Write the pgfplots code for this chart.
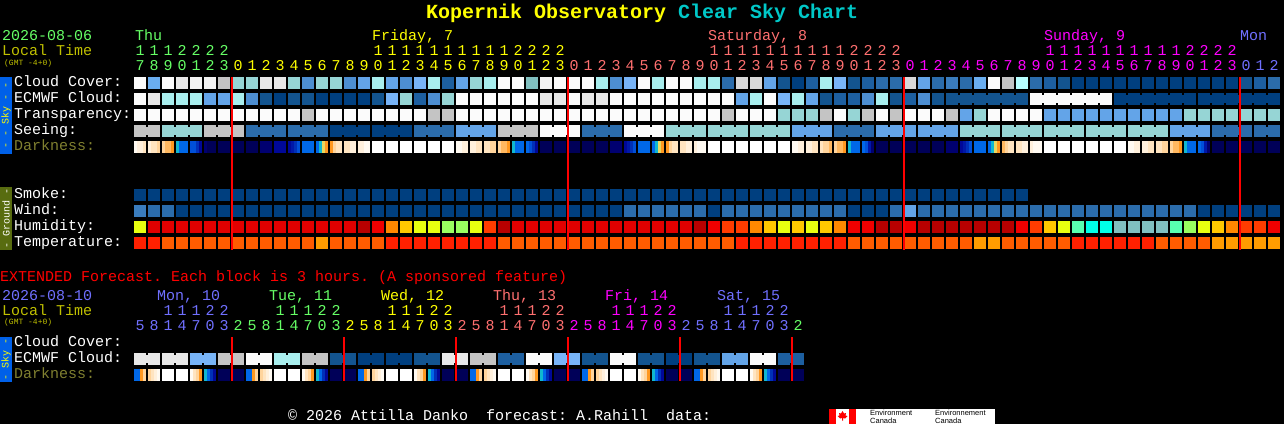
\documentclass[border=0pt]{standalone}
\usepackage{fontspec}
\usepackage{pgfplots}
\usepackage{pgfplotstable}
\pgfplotsset{compat=1.18}
\frenchspacing
\newfontfamily\mono{Liberation Mono}
\newfontfamily\sans{Liberation Sans}
% sky palette
\definecolor{cW}{HTML}{FBFBFB}\definecolor{cw}{HTML}{F3F3F3}\definecolor{ce}{HTML}{E8E8E8}
\definecolor{cd}{HTML}{D8D8D8}\definecolor{cg}{HTML}{C4C4C4}\definecolor{cp}{HTML}{B8FFFF}
\definecolor{cc}{HTML}{A8EEEE}\definecolor{ct}{HTML}{96D5D5}\definecolor{cT}{HTML}{80BFBF}
\definecolor{cl}{HTML}{78B4F7}\definecolor{ck}{HTML}{6AAEF0}\definecolor{ch}{HTML}{63A4E8}
\definecolor{cm}{HTML}{4D8ED1}\definecolor{cM}{HTML}{3A7CBD}\definecolor{cb}{HTML}{2B6CAB}
\definecolor{ca}{HTML}{1D5FA0}\definecolor{cn}{HTML}{13548F}\definecolor{cN}{HTML}{003F7F}
% darkness palette
\definecolor{dW}{HTML}{FFFFFF}\definecolor{dA}{HTML}{FFFAF2}\definecolor{dB}{HTML}{FFF0DC}
\definecolor{dC}{HTML}{FFE4C0}\definecolor{dD}{HTML}{FFD49C}\definecolor{dE}{HTML}{FFB860}
\definecolor{dF}{HTML}{FF9820}\definecolor{dG}{HTML}{10B8D0}\definecolor{dY}{HTML}{E8D860}
\definecolor{dH}{HTML}{0068E8}\definecolor{dI}{HTML}{0050D8}\definecolor{dJ}{HTML}{0030B8}
\definecolor{dK}{HTML}{0018A8}\definecolor{dL}{HTML}{000898}\definecolor{dM}{HTML}{000070}
\definecolor{dN}{HTML}{000058}
% humidity palette
\definecolor{hy}{HTML}{E8FF10}\definecolor{hg}{HTML}{98FF60}\definecolor{hm}{HTML}{58FFB0}
\definecolor{hq}{HTML}{00FFE8}\definecolor{hc}{HTML}{80C0C0}\definecolor{ha}{HTML}{FFC800}
\definecolor{ho}{HTML}{FF8800}\definecolor{hs}{HTML}{FF3C00}\definecolor{hR}{HTML}{F00000}
\definecolor{hr}{HTML}{E00000}\definecolor{hd}{HTML}{B80000}
% temperature palette
\definecolor{tA}{HTML}{FF2000}\definecolor{tB}{HTML}{FF5C00}\definecolor{tC}{HTML}{FF9C00}
% text colours
\definecolor{xGrn}{HTML}{66FF66}\definecolor{xYel}{HTML}{FFFF00}\definecolor{xSal}{HTML}{FF7070}
\definecolor{xMag}{HTML}{FF00FF}\definecolor{xBlu}{HTML}{7070FF}\definecolor{xLT}{HTML}{C0C000}
\definecolor{xDk}{HTML}{808030}\definecolor{xCy}{HTML}{00C8C8}\definecolor{xSky}{HTML}{0060E8}
\definecolor{xGnd}{HTML}{586C10}

\pgfdeclareplotmark{cell}{\pgfpathrectangle{\pgfpoint{-6pt}{-6pt}}{\pgfpoint{12pt}{12pt}}\pgfusepath{fill}}
\pgfdeclareplotmark{bridge}{\pgfpathrectangle{\pgfpoint{-2.5pt}{-4pt}}{\pgfpoint{5pt}{8pt}}\pgfusepath{fill}}
\pgfdeclareplotmark{slice}{\pgfpathrectangle{\pgfpoint{-1.7pt}{-6pt}}{\pgfpoint{3.4pt}{12pt}}\pgfusepath{fill}}

\pgfplotsset{
 skypal/.style={only marks,scatter,scatter src=explicit symbolic,mark=#1,
  scatter/classes={
   W={mark=#1,fill=cW,draw=none},w={mark=#1,fill=cw,draw=none},e={mark=#1,fill=ce,draw=none},
   d={mark=#1,fill=cd,draw=none},g={mark=#1,fill=cg,draw=none},p={mark=#1,fill=cp,draw=none},
   c={mark=#1,fill=cc,draw=none},t={mark=#1,fill=ct,draw=none},T={mark=#1,fill=cT,draw=none},
   l={mark=#1,fill=cl,draw=none},k={mark=#1,fill=ck,draw=none},h={mark=#1,fill=ch,draw=none},
   m={mark=#1,fill=cm,draw=none},M={mark=#1,fill=cM,draw=none},b={mark=#1,fill=cb,draw=none},
   a={mark=#1,fill=ca,draw=none},n={mark=#1,fill=cn,draw=none},N={mark=#1,fill=cN,draw=none}}},
 darkpal/.style={only marks,scatter,scatter src=explicit symbolic,mark=slice,
  scatter/classes={
   W={mark=slice,fill=dW,draw=none},A={mark=slice,fill=dA,draw=none},B={mark=slice,fill=dB,draw=none},
   C={mark=slice,fill=dC,draw=none},D={mark=slice,fill=dD,draw=none},E={mark=slice,fill=dE,draw=none},
   F={mark=slice,fill=dF,draw=none},G={mark=slice,fill=dG,draw=none},Y={mark=slice,fill=dY,draw=none},
   H={mark=slice,fill=dH,draw=none},I={mark=slice,fill=dI,draw=none},J={mark=slice,fill=dJ,draw=none},
   K={mark=slice,fill=dK,draw=none},L={mark=slice,fill=dL,draw=none},M={mark=slice,fill=dM,draw=none},
   N={mark=slice,fill=dN,draw=none}}},
 humpal/.style={only marks,scatter,scatter src=explicit symbolic,mark=cell,
  scatter/classes={
   y={mark=cell,fill=hy,draw=none},g={mark=cell,fill=hg,draw=none},m={mark=cell,fill=hm,draw=none},
   q={mark=cell,fill=hq,draw=none},c={mark=cell,fill=hc,draw=none},a={mark=cell,fill=ha,draw=none},
   o={mark=cell,fill=ho,draw=none},s={mark=cell,fill=hs,draw=none},R={mark=cell,fill=hR,draw=none},
   r={mark=cell,fill=hr,draw=none},d={mark=cell,fill=hd,draw=none}}},
 tmppal/.style={only marks,scatter,scatter src=explicit symbolic,mark=cell,
  scatter/classes={
   A={mark=cell,fill=tA,draw=none},B={mark=cell,fill=tB,draw=none},C={mark=cell,fill=tC,draw=none}}},
 redline/.style={no marks,red,line width=2pt},
 base/.style={at={(0pt,0pt)},anchor=north west,scale only axis,width=1284pt,height=424pt,
  xmin=-10,xmax=81.7142857,ymin=0,ymax=424,y dir=reverse,
  ticks=none,axis line style={draw=none},clip=true},
}

% darkness, four slices per cell, one table for each forecast
\pgfplotstableread{
i a b c d
0 A B B C
1 B C C D
2 D E E F
3 G H H H
4 I I J L
5 M N N N
6 N N N N
7 N N N N
8 N N N N
9 M M M M
10 L L L L
11 L K J I
12 H H H H
13 H G Y F
14 F D C C
15 C C B B
16 B B A A
17 W W W W
18 W W W W
19 W W W W
20 W W W W
21 W W W W
22 W W W W
23 A A B B
24 B B C C
25 C C D D
26 D E E F
27 G H H H
28 H I J L
29 N N N N
30 N N N N
31 N N N N
32 N N N N
33 N N N N
34 M M M M
35 L K J I
36 H H H H
37 H G Y F
38 F D C C
39 C C B B
40 B A A A
41 W W W W
42 W W W W
43 W W W W
44 W W W W
45 W W W W
46 W W W W
47 A A B B
48 B B C C
49 C D D E
50 D E E F
51 G H H H
52 H I K M
53 N N N N
54 N N N N
55 N N N N
56 N N N N
57 N N N N
58 M M M M
59 L K J I
60 H H H H
61 H G Y F
62 E D C C
63 C C B B
64 B A A A
65 W W W W
66 W W W W
67 W W W W
68 W W W W
69 W W W W
70 W W W W
71 A A B B
72 B B C C
73 C C D D
74 D E E F
75 G H H H
76 H I K M
77 N N N N
78 N N N N
79 N N N N
80 N N N N
81 N N N N
}\darkmain

\pgfplotstableread{
i a b c d
0 H H F D
1 D C B A
2 W W W W
3 W W W W
4 A C D F
5 G H J L
6 N N N N
7 N N N N
8 H H F D
9 D C B A
10 W W W W
11 W W W W
12 A C D F
13 G H J L
14 N N N N
15 N N N N
16 H H F D
17 D C B A
18 W W W W
19 W W W W
20 A C D F
21 G H J L
22 N N N N
23 N N N N
24 H H F D
25 D C B A
26 W W W W
27 W W W W
28 A C D F
29 G H J L
30 N N N N
31 N N N N
32 H H F D
33 D C B A
34 W W W W
35 W W W W
36 A C D F
37 G H J L
38 N N N N
39 N N N N
40 H H F D
41 D C B A
42 W W W W
43 W W W W
44 A C D F
45 G H J L
46 N N N N
47 N N N N
}\darkext

% extended ECMWF cloud, one colour per two-cell block
\pgfplotstableread{
b c
0 e
1 e
2 l
3 g
4 W
5 c
6 g
7 n
8 N
9 N
10 n
11 e
12 g
13 a
14 W
15 l
16 n
17 W
18 n
19 N
20 n
21 h
22 W
23 a
}\ecmwfext

\newcommand\hours[4]{\foreach \d [count=\n from #1] in {#4}{\node[anchor=base,inner sep=0pt,text=#2,font=\mono\fontsize{15}{15}\selectfont] at ({140+14*\n},#3) {\d};}}
\newcommand\lab[4][white]{\node[anchor=base west,inner sep=0pt,text=#1,font=\mono\fontsize{#4}{#4}\selectfont] at (#2) {#3};}

\begin{document}
\begin{tikzpicture}
\path[use as bounding box] (0pt,0pt) rectangle (1284pt,-424pt);
\begin{axis}[base,axis background/.style={fill=black}]
% Cloud Cover
\addplot[skypal=cell] coordinates {(0,83)[W](1,83)[k](2,83)[W](3,83)[e](4,83)[w](5,83)[w](6,83)[g](7,83)[t](8,83)[t](9,83)[e](10,83)[e](11,83)[t](12,83)[m](13,83)[t](14,83)[t](15,83)[m](16,83)[h](17,83)[c](18,83)[h](19,83)[m](20,83)[l](21,83)[c](22,83)[a](23,83)[h](24,83)[t](25,83)[c](26,83)[W](27,83)[W](28,83)[T](29,83)[w](30,83)[W](31,83)[W](32,83)[W](33,83)[c](34,83)[m](35,83)[l](36,83)[W](37,83)[c](38,83)[W](39,83)[W](40,83)[c](41,83)[c](42,83)[b](43,83)[d](44,83)[d](45,83)[h](46,83)[n](47,83)[N](48,83)[a](49,83)[c](50,83)[l](51,83)[n](52,83)[a](53,83)[b](54,83)[b](55,83)[d](56,83)[h](57,83)[b](58,83)[M](59,83)[b](60,83)[k](61,83)[W](62,83)[g](63,83)[p](64,83)[b](65,83)[a](66,83)[n](67,83)[N](68,83)[N](69,83)[N](70,83)[N](71,83)[N](72,83)[N](73,83)[N](74,83)[N](75,83)[N](76,83)[N](77,83)[N](78,83)[N](79,83)[n](80,83)[a](81,83)[b]};
% ECMWF Cloud
\addplot[skypal=cell] coordinates {(0,99)[W](1,99)[e](2,99)[c](3,99)[c](4,99)[c](5,99)[h](6,99)[h](7,99)[c](8,99)[m](9,99)[n](10,99)[N](11,99)[n](12,99)[n](13,99)[N](14,99)[N](15,99)[N](16,99)[N](17,99)[n](18,99)[l](19,99)[t](20,99)[a](21,99)[m](22,99)[t](23,99)[W](24,99)[W](25,99)[W](26,99)[W](27,99)[W](28,99)[W](29,99)[e](30,99)[e](31,99)[W](32,99)[e](33,99)[e](34,99)[W](35,99)[W](36,99)[W](37,99)[W](38,99)[W](39,99)[W](40,99)[W](41,99)[W](42,99)[W](43,99)[h](44,99)[c](45,99)[W](46,99)[l](47,99)[c](48,99)[h](49,99)[n](50,99)[a](51,99)[a](52,99)[m](53,99)[c](54,99)[n](55,99)[a](56,99)[m](57,99)[n](58,99)[n](59,99)[n](60,99)[n](61,99)[n](62,99)[n](63,99)[n](64,99)[W](65,99)[W](66,99)[W](67,99)[W](68,99)[W](69,99)[W](70,99)[N](71,99)[N](72,99)[N](73,99)[N](74,99)[N](75,99)[N](76,99)[N](77,99)[N](78,99)[N](79,99)[N](80,99)[N](81,99)[N]};
\addplot[skypal=bridge] coordinates {(58.5,99)[n](59.5,99)[n](60.5,99)[n](61.5,99)[n](62.5,99)[n](64.5,99)[W](65.5,99)[W](66.5,99)[W](67.5,99)[W](68.5,99)[W](70.5,99)[N](71.5,99)[N](72.5,99)[N](73.5,99)[N](74.5,99)[N](76.5,99)[N](77.5,99)[N](78.5,99)[N](79.5,99)[N](80.5,99)[N]};
% Transparency
\addplot[skypal=cell] coordinates {(0,115)[W](1,115)[W](2,115)[W](3,115)[W](4,115)[W](5,115)[W](6,115)[W](7,115)[W](8,115)[W](9,115)[W](10,115)[W](11,115)[W](12,115)[g](13,115)[W](14,115)[W](15,115)[W](16,115)[W](17,115)[W](18,115)[W](19,115)[W](20,115)[W](21,115)[g](22,115)[g](23,115)[W](24,115)[W](25,115)[W](26,115)[W](27,115)[W](28,115)[W](29,115)[W](30,115)[W](31,115)[W](32,115)[W](33,115)[W](34,115)[W](35,115)[W](36,115)[W](37,115)[W](38,115)[W](39,115)[W](40,115)[W](41,115)[W](42,115)[g](43,115)[W](44,115)[W](45,115)[W](46,115)[t](47,115)[t](48,115)[t](49,115)[g](50,115)[W](51,115)[t](52,115)[g](53,115)[W](54,115)[g](55,115)[W](56,115)[W](57,115)[W](58,115)[g](59,115)[h](60,115)[t](61,115)[W](62,115)[W](63,115)[W](64,115)[W](65,115)[h](66,115)[h](67,115)[h](68,115)[h](69,115)[h](70,115)[h](71,115)[h](72,115)[h](73,115)[h](74,115)[h](75,115)[t](76,115)[t](77,115)[t](78,115)[t](79,115)[t](80,115)[t](81,115)[t]};
% Seeing
\addplot[skypal=cell] coordinates {(0,131)[g](1,131)[g](2,131)[t](3,131)[t](4,131)[t](5,131)[g](6,131)[g](7,131)[g](8,131)[b](9,131)[b](10,131)[b](11,131)[b](12,131)[b](13,131)[b](14,131)[N](15,131)[N](16,131)[N](17,131)[N](18,131)[N](19,131)[N](20,131)[b](21,131)[b](22,131)[b](23,131)[h](24,131)[h](25,131)[h](26,131)[g](27,131)[g](28,131)[g](29,131)[W](30,131)[W](31,131)[W](32,131)[b](33,131)[b](34,131)[b](35,131)[W](36,131)[W](37,131)[W](38,131)[t](39,131)[t](40,131)[t](41,131)[t](42,131)[t](43,131)[t](44,131)[t](45,131)[t](46,131)[t](47,131)[h](48,131)[h](49,131)[h](50,131)[b](51,131)[b](52,131)[b](53,131)[h](54,131)[h](55,131)[h](56,131)[h](57,131)[h](58,131)[h](59,131)[t](60,131)[t](61,131)[t](62,131)[t](63,131)[t](64,131)[t](65,131)[t](66,131)[t](67,131)[t](68,131)[t](69,131)[t](70,131)[t](71,131)[t](72,131)[t](73,131)[t](74,131)[h](75,131)[h](76,131)[h](77,131)[b](78,131)[b](79,131)[b](80,131)[b](81,131)[b]};
\addplot[skypal=bridge] coordinates {(.5,131)[g](2.5,131)[t](3.5,131)[t](5.5,131)[g](6.5,131)[g](8.5,131)[b](9.5,131)[b](11.5,131)[b](12.5,131)[b](14.5,131)[N](15.5,131)[N](17.5,131)[N](18.5,131)[N](20.5,131)[b](21.5,131)[b](23.5,131)[h](24.5,131)[h](26.5,131)[g](27.5,131)[g](29.5,131)[W](30.5,131)[W](32.5,131)[b](33.5,131)[b](35.5,131)[W](36.5,131)[W](38.5,131)[t](39.5,131)[t](41.5,131)[t](42.5,131)[t](44.5,131)[t](45.5,131)[t](47.5,131)[h](48.5,131)[h](50.5,131)[b](51.5,131)[b](53.5,131)[h](54.5,131)[h](56.5,131)[h](57.5,131)[h](59.5,131)[t](60.5,131)[t](62.5,131)[t](63.5,131)[t](65.5,131)[t](66.5,131)[t](68.5,131)[t](69.5,131)[t](71.5,131)[t](72.5,131)[t](74.5,131)[h](75.5,131)[h](77.5,131)[b](78.5,131)[b](80.5,131)[b]};
% Darkness
\addplot[darkpal] table[x expr=\thisrow{i}-.32,y expr=147,meta=a] {\darkmain};
\addplot[darkpal] table[x expr=\thisrow{i}-.11,y expr=147,meta=b] {\darkmain};
\addplot[darkpal] table[x expr=\thisrow{i}+.11,y expr=147,meta=c] {\darkmain};
\addplot[darkpal] table[x expr=\thisrow{i}+.32,y expr=147,meta=d] {\darkmain};
% Smoke
\addplot[skypal=cell] coordinates {(0,195)[N](1,195)[N](2,195)[N](3,195)[N](4,195)[N](5,195)[N](6,195)[N](7,195)[N](8,195)[N](9,195)[N](10,195)[N](11,195)[N](12,195)[N](13,195)[N](14,195)[N](15,195)[N](16,195)[N](17,195)[N](18,195)[N](19,195)[N](20,195)[N](21,195)[N](22,195)[N](23,195)[N](24,195)[N](25,195)[N](26,195)[N](27,195)[N](28,195)[N](29,195)[N](30,195)[N](31,195)[N](32,195)[N](33,195)[N](34,195)[N](35,195)[N](36,195)[N](37,195)[N](38,195)[N](39,195)[N](40,195)[N](41,195)[N](42,195)[N](43,195)[N](44,195)[N](45,195)[N](46,195)[N](47,195)[N](48,195)[N](49,195)[N](50,195)[N](51,195)[N](52,195)[N](53,195)[N](54,195)[N](55,195)[N](56,195)[N](57,195)[N](58,195)[N](59,195)[N](60,195)[N](61,195)[N](62,195)[N](63,195)[N]};
% Wind
\addplot[skypal=cell] coordinates {(0,211)[M](1,211)[b](2,211)[b](3,211)[N](4,211)[N](5,211)[N](6,211)[N](7,211)[N](8,211)[N](9,211)[N](10,211)[N](11,211)[N](12,211)[N](13,211)[N](14,211)[N](15,211)[N](16,211)[N](17,211)[N](18,211)[N](19,211)[N](20,211)[N](21,211)[N](22,211)[N](23,211)[N](24,211)[N](25,211)[N](26,211)[N](27,211)[N](28,211)[N](29,211)[N](30,211)[N](31,211)[N](32,211)[N](33,211)[N](34,211)[N](35,211)[b](36,211)[b](37,211)[b](38,211)[b](39,211)[b](40,211)[b](41,211)[N](42,211)[b](43,211)[b](44,211)[b](45,211)[b](46,211)[b](47,211)[b](48,211)[b](49,211)[b](50,211)[b](51,211)[N](52,211)[N](53,211)[N](54,211)[b](55,211)[h](56,211)[b](57,211)[b](58,211)[b](59,211)[b](60,211)[b](61,211)[b](62,211)[b](63,211)[b](64,211)[b](65,211)[b](66,211)[b](67,211)[b](68,211)[b](69,211)[b](70,211)[b](71,211)[b](72,211)[b](73,211)[b](74,211)[b](75,211)[b](76,211)[N](77,211)[N](78,211)[N](79,211)[N](80,211)[N](81,211)[N]};
% Humidity
\addplot[humpal] coordinates {(0,227)[y](1,227)[r](2,227)[r](3,227)[r](4,227)[r](5,227)[r](6,227)[r](7,227)[r](8,227)[r](9,227)[r](10,227)[r](11,227)[r](12,227)[r](13,227)[r](14,227)[r](15,227)[r](16,227)[d](17,227)[R](18,227)[o](19,227)[a](20,227)[y](21,227)[y](22,227)[g](23,227)[g](24,227)[y](25,227)[s](26,227)[d](27,227)[r](28,227)[r](29,227)[r](30,227)[r](31,227)[r](32,227)[r](33,227)[r](34,227)[r](35,227)[r](36,227)[r](37,227)[r](38,227)[r](39,227)[r](40,227)[d](41,227)[R](42,227)[s](43,227)[s](44,227)[o](45,227)[a](46,227)[y](47,227)[a](48,227)[y](49,227)[a](50,227)[o](51,227)[R](52,227)[R](53,227)[d](54,227)[d](55,227)[R](56,227)[d](57,227)[d](58,227)[d](59,227)[d](60,227)[d](61,227)[d](62,227)[d](63,227)[R](64,227)[s](65,227)[a](66,227)[y](67,227)[m](68,227)[q](69,227)[q](70,227)[c](71,227)[c](72,227)[c](73,227)[c](74,227)[m](75,227)[g](76,227)[y](77,227)[a](78,227)[o](79,227)[s](80,227)[s](81,227)[R]};
% Temperature
\addplot[tmppal] coordinates {(0,243)[A](1,243)[A](2,243)[B](3,243)[B](4,243)[B](5,243)[B](6,243)[B](7,243)[B](8,243)[B](9,243)[B](10,243)[B](11,243)[B](12,243)[B](13,243)[C](14,243)[B](15,243)[B](16,243)[B](17,243)[B](18,243)[A](19,243)[A](20,243)[A](21,243)[A](22,243)[A](23,243)[A](24,243)[A](25,243)[A](26,243)[B](27,243)[B](28,243)[B](29,243)[B](30,243)[B](31,243)[B](32,243)[B](33,243)[B](34,243)[B](35,243)[B](36,243)[B](37,243)[B](38,243)[B](39,243)[B](40,243)[B](41,243)[B](42,243)[B](43,243)[A](44,243)[A](45,243)[A](46,243)[A](47,243)[A](48,243)[A](49,243)[A](50,243)[A](51,243)[B](52,243)[B](53,243)[B](54,243)[B](55,243)[B](56,243)[B](57,243)[B](58,243)[B](59,243)[B](60,243)[C](61,243)[C](62,243)[B](63,243)[B](64,243)[B](65,243)[B](66,243)[B](67,243)[A](68,243)[A](69,243)[A](70,243)[A](71,243)[A](72,243)[A](73,243)[B](74,243)[B](75,243)[B](76,243)[B](77,243)[C](78,243)[C](79,243)[C](80,243)[C](81,243)[C]};
% Extended ECMWF Cloud
\addplot[skypal=cell] table[x expr=2*\thisrow{b},y expr=359,meta=c] {\ecmwfext};
\addplot[skypal=cell] table[x expr=2*\thisrow{b}+1,y expr=359,meta=c] {\ecmwfext};
\addplot[skypal=bridge] table[x expr=2*\thisrow{b}+.5,y expr=359,meta=c] {\ecmwfext};
% Extended Darkness
\addplot[darkpal] table[x expr=\thisrow{i}-.32,y expr=375,meta=a] {\darkext};
\addplot[darkpal] table[x expr=\thisrow{i}-.11,y expr=375,meta=b] {\darkext};
\addplot[darkpal] table[x expr=\thisrow{i}+.11,y expr=375,meta=c] {\darkext};
\addplot[darkpal] table[x expr=\thisrow{i}+.32,y expr=375,meta=d] {\darkext};
\end{axis}
% midnight lines, above the marks
\begin{axis}[base]
\addplot[redline] coordinates {(6.571,77)(6.571,249.5)};
\addplot[redline] coordinates {(30.571,77)(30.571,249.5)};
\addplot[redline] coordinates {(54.571,77)(54.571,249.5)};
\addplot[redline] coordinates {(78.571,77)(78.571,249.5)};
\addplot[redline] coordinates {(6.571,337)(6.571,381)};
\addplot[redline] coordinates {(14.571,337)(14.571,381)};
\addplot[redline] coordinates {(22.571,337)(22.571,381)};
\addplot[redline] coordinates {(30.571,337)(30.571,381)};
\addplot[redline] coordinates {(38.571,337)(38.571,381)};
\addplot[redline] coordinates {(46.571,337)(46.571,381)};
\end{axis}
\begin{scope}[x=1pt,y=-1pt]
% title
\node[anchor=base west,inner sep=0pt,font=\mono\bfseries\fontsize{20}{20}\selectfont,text=xYel] at (426,18) {Kopernik Observatory};
\node[anchor=base west,inner sep=0pt,font=\mono\bfseries\fontsize{20}{20}\selectfont,text=xCy] at (678,18) {Clear Sky Chart};
% header, main forecast
\lab[xGrn]{2,40}{2026-08-06}{15}
\lab[xLT]{2,55}{Local Time}{15}
\lab[xLT]{4,65}{(GMT -4+0)}{8}
\lab[xGrn]{135,40}{Thu}{15}
\lab[xYel]{372,40}{Friday, 7}{15}
\lab[xSal]{708,40}{Saturday, 8}{15}
\lab[xMag]{1044,40}{Sunday, 9}{15}
\lab[xBlu]{1240,40}{Mon}{15}
\hours{0}{xGrn}{55}{1,1,1,2,2,2,2}
\hours{17}{xYel}{55}{1,1,1,1,1,1,1,1,1,1,2,2,2,2}
\hours{41}{xSal}{55}{1,1,1,1,1,1,1,1,1,1,2,2,2,2}
\hours{65}{xMag}{55}{1,1,1,1,1,1,1,1,1,1,2,2,2,2}
\hours{0}{xGrn}{70}{7,8,9,0,1,2,3}
\hours{7}{xYel}{70}{0,1,2,3,4,5,6,7,8,9,0,1,2,3,4,5,6,7,8,9,0,1,2,3}
\hours{31}{xSal}{70}{0,1,2,3,4,5,6,7,8,9,0,1,2,3,4,5,6,7,8,9,0,1,2,3}
\hours{55}{xMag}{70}{0,1,2,3,4,5,6,7,8,9,0,1,2,3,4,5,6,7,8,9,0,1,2,3}
\hours{79}{xBlu}{70}{0,1,2}
% row labels
\lab{14,86}{Cloud Cover:}{15}
\lab{14,102}{ECMWF Cloud:}{15}
\lab{14,118}{Transparency:}{15}
\lab{14,134}{Seeing:}{15}
\lab[xDk]{14,150}{Darkness:}{15}
\lab{14,198}{Smoke:}{15}
\lab{14,214}{Wind:}{15}
\lab{14,230}{Humidity:}{15}
\lab{14,246}{Temperature:}{15}
% side bars
\fill[xSky] (0,77) rectangle (12,154);
\fill[xGnd] (0,187) rectangle (12,250);
\fill[xSky] (0,337) rectangle (12,382);
\node[rotate=90,inner sep=0pt,text=xYel,font=\mono\fontsize{10}{10}\selectfont] at (6,115.5) {- - Sky - -};
\node[rotate=90,inner sep=0pt,text=white,font=\mono\fontsize{10}{10}\selectfont] at (6,218.5) {- Ground -};
\node[rotate=90,inner sep=0pt,text=xYel,font=\mono\fontsize{10}{10}\selectfont] at (6,359.5) {- Sky -};
% extended
\lab[red]{0,281}{EXTENDED Forecast. Each block is 3 hours. (A sponsored feature)}{15}
\lab[xBlu]{2,300}{2026-08-10}{15}
\lab[xLT]{2,315}{Local Time}{15}
\lab[xLT]{4,324}{(GMT -4+0)}{8}
\lab[xBlu]{157,300}{Mon, 10}{15}
\lab[xGrn]{269,300}{Tue, 11}{15}
\lab[xYel]{381,300}{Wed, 12}{15}
\lab[xSal]{493,300}{Thu, 13}{15}
\lab[xMag]{605,300}{Fri, 14}{15}
\lab[xBlu]{717,300}{Sat, 15}{15}
\hours{2}{xBlu}{315}{1,1,1,2,2}
\hours{10}{xGrn}{315}{1,1,1,2,2}
\hours{18}{xYel}{315}{1,1,1,2,2}
\hours{26}{xSal}{315}{1,1,1,2,2}
\hours{34}{xMag}{315}{1,1,1,2,2}
\hours{42}{xBlu}{315}{1,1,1,2,2}
\hours{0}{xBlu}{330}{5,8,1,4,7,0,3}
\hours{7}{xGrn}{330}{2,5,8,1,4,7,0,3}
\hours{15}{xYel}{330}{2,5,8,1,4,7,0,3}
\hours{23}{xSal}{330}{2,5,8,1,4,7,0,3}
\hours{31}{xMag}{330}{2,5,8,1,4,7,0,3}
\hours{39}{xBlu}{330}{2,5,8,1,4,7,0,3}
\hours{47}{xGrn}{330}{2}
\lab{14,346}{Cloud Cover:}{15}
\lab{14,362}{ECMWF Cloud:}{15}
\lab[xDk]{14,378}{Darkness:}{15}
% footer
\lab{288,420.5}{\char"00A9{} 2026 Attilla Danko~~forecast: A.Rahill~~data:}{15}
\fill[white] (829,409) rectangle (995,424);
\fill[red] (829,409) rectangle (836,424);
\fill[red] (849,409) rectangle (856,424);
\fill[red] (842.5,411)--(844,413.5)--(846,413)--(845.5,415.5)--(847.5,416)--(845,418.5)--(843,418)--(843,420.5)--(842,420.5)--(842,418)--(840,418.5)--(837.5,416)--(839.5,415.5)--(839,413)--(841,413.5)--cycle;
\node[anchor=base west,inner sep=0pt,font=\sans\fontsize{7.5}{7.5}\selectfont,text=black] at (870,415.5) {Environment};
\node[anchor=base west,inner sep=0pt,font=\sans\fontsize{7.5}{7.5}\selectfont,text=black] at (870,423) {Canada};
\node[anchor=base west,inner sep=0pt,font=\sans\fontsize{7.5}{7.5}\selectfont,text=black] at (935,415.5) {Environnement};
\node[anchor=base west,inner sep=0pt,font=\sans\fontsize{7.5}{7.5}\selectfont,text=black] at (935,423) {Canada};
\end{scope}
\end{tikzpicture}
\end{document}
